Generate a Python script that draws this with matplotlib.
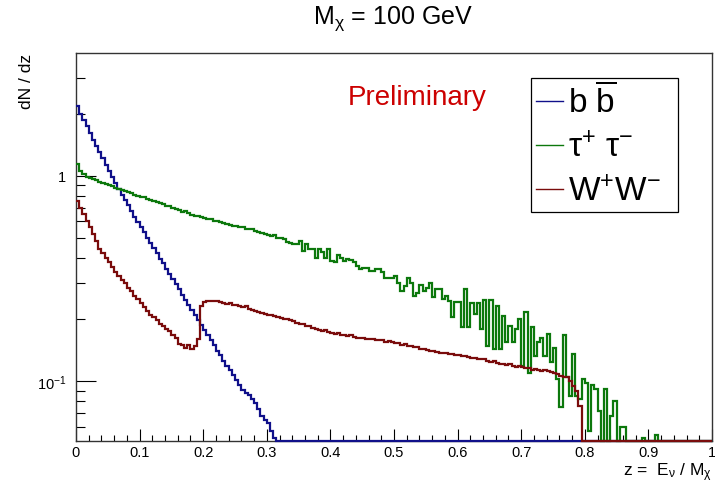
import numpy as np
import matplotlib
matplotlib.use('Agg')
import matplotlib.pyplot as plt
from matplotlib.ticker import MultipleLocator, FixedLocator, NullFormatter
from matplotlib.lines import Line2D

plt.rcParams['font.family'] = ['Liberation Sans', 'DejaVu Sans']
plt.rcParams['mathtext.fontset'] = 'custom'
plt.rcParams['mathtext.rm'] = 'Liberation Sans'
plt.rcParams['mathtext.it'] = 'Liberation Sans:italic'
plt.rcParams['mathtext.bf'] = 'Liberation Sans:bold'

# ---------------- data (200 bins of width 0.005 in z) ----------------
z_edges = np.linspace(0.0, 1.0, 201)

bb_values = [2.18, 2.00, 1.86, 1.74, 1.62, 1.50, 1.40, 1.31, 1.22, 1.13,
             1.06, 0.99, 0.92, 0.86, 0.81, 0.76, 0.72, 0.67, 0.63, 0.595,
             0.56, 0.53, 0.50, 0.47, 0.445, 0.42, 0.395, 0.375, 0.352, 0.332,
             0.314, 0.296, 0.28, 0.264, 0.249, 0.236, 0.222, 0.21, 0.198, 0.188,
             0.178, 0.168, 0.159, 0.150, 0.141, 0.134, 0.126, 0.119, 0.113, 0.107,
             0.101, 0.096, 0.091, 0.088, 0.086, 0.082, 0.078, 0.073, 0.068, 0.065,
             0.063, 0.0575, 0.053] + [0.0] * 137

tautau_values = [1.14, 1.06, 1.02, 0.99, 0.975, 0.96, 0.95, 0.935, 0.92, 0.91,
                 0.90, 0.89, 0.875, 0.86, 0.855, 0.845, 0.83, 0.82, 0.805, 0.80,
                 0.79, 0.785, 0.77, 0.76, 0.755, 0.745, 0.74, 0.725, 0.715, 0.71,
                 0.70, 0.69, 0.68, 0.665, 0.67, 0.655, 0.645, 0.64, 0.635, 0.628,
                 0.625, 0.615, 0.618, 0.605, 0.603, 0.595, 0.59, 0.585, 0.578, 0.572,
                 0.568, 0.565, 0.56, 0.553, 0.55, 0.548, 0.54, 0.535, 0.525, 0.52,
                 0.515, 0.51, 0.512, 0.50,
                 0.50, 0.49, 0.474, 0.47, 0.465, 0.465, 0.48, 0.432, 0.465, 0.44,
                 0.44, 0.40, 0.44, 0.425, 0.40, 0.44, 0.386, 0.38, 0.41, 0.40,
                 0.386, 0.395, 0.39, 0.379, 0.365, 0.352, 0.355, 0.355, 0.345, 0.345,
                 0.352, 0.352, 0.34, 0.317, 0.317, 0.317, 0.325, 0.30, 0.276, 0.292,
                 0.317, 0.30, 0.26, 0.27, 0.295, 0.276, 0.285, 0.30, 0.256, 0.28,
                 0.28, 0.25, 0.26,
                 0.247, 0.205, 0.242, 0.242, 0.183, 0.281, 0.183, 0.24, 0.212, 0.24,
                 0.18, 0.249, 0.149, 0.249, 0.144, 0.232, 0.144, 0.207, 0.155, 0.185,
                 0.155, 0.18, 0.2, 0.119, 0.218, 0.11, 0.183, 0.133, 0.155, 0.162,
                 0.133, 0.17, 0.124, 0.145, 0.103, 0.075, 0.167, 0.105, 0.085, 0.136,
                 0.085, 0.082, 0.103, 0.098, 0.0575, 0.0955, 0.092, 0.072, 0.0, 0.092,
                 0.0, 0.068, 0.0805, 0.0, 0.06, 0.06, 0.0, 0.0, 0.0, 0.0,
                 0.0, 0.053, 0.0, 0.0, 0.0, 0.055] + [0.0] * 17

ww_values = [0.756, 0.70, 0.65, 0.60, 0.56, 0.52, 0.48, 0.44, 0.42, 0.40,
             0.38, 0.36, 0.34, 0.327, 0.31, 0.30, 0.285, 0.275, 0.26, 0.25,
             0.24, 0.23, 0.22, 0.21, 0.205, 0.198, 0.19, 0.185, 0.18, 0.175,
             0.168, 0.162, 0.152, 0.15, 0.145, 0.15, 0.143, 0.148, 0.16, 0.233,
             0.242, 0.245, 0.247, 0.247, 0.245, 0.243, 0.24, 0.238, 0.24, 0.236,
             0.235, 0.232, 0.23, 0.233, 0.225, 0.222, 0.22, 0.218, 0.215, 0.213,
             0.21, 0.21, 0.207, 0.205, 0.203, 0.201, 0.2, 0.198, 0.196, 0.193,
             0.19, 0.19, 0.186, 0.186, 0.182, 0.18, 0.178, 0.176, 0.178, 0.174,
             0.172, 0.17, 0.172, 0.168, 0.168, 0.166, 0.167, 0.165, 0.163, 0.163,
             0.162, 0.16, 0.16, 0.161, 0.159, 0.158, 0.158, 0.156, 0.157, 0.155,
             0.153, 0.153, 0.15, 0.152, 0.149, 0.148, 0.147, 0.146, 0.144, 0.144,
             0.142, 0.14, 0.141, 0.139, 0.138, 0.138, 0.137, 0.136, 0.135, 0.134,
             0.134, 0.132, 0.133, 0.131, 0.13, 0.13, 0.128, 0.129, 0.128, 0.126,
             0.124, 0.125, 0.123, 0.122, 0.122, 0.12, 0.121, 0.119, 0.118, 0.119,
             0.117, 0.116, 0.116, 0.114, 0.115, 0.113, 0.112, 0.113, 0.112, 0.111,
             0.11, 0.108, 0.106, 0.105, 0.105, 0.10, 0.095, 0.09, 0.076] + [0.0] * 41

series_labels = [r'b $\overline{\mathrm{b}}$', r'$\mathrm{\tau}^{+}\ \mathrm{\tau}^{-}$', r'W$^{+}$W$^{-}$']
series_colors = ['#10108a', '#0c780c', '#7a0c0c']
x_tick_values = [0, 0.1, 0.2, 0.3, 0.4, 0.5, 0.6, 0.7, 0.8, 0.9, 1.0]
x_tick_labels = ['0', '0.1', '0.2', '0.3', '0.4', '0.5', '0.6', '0.7', '0.8', '0.9', '1']
y_tick_values = [0.1, 1.0]
y_tick_labels = [r'$10^{-1}$', '1']

YMIN, YMAX = 0.0514, 3.94

# ---------------- figure ----------------
fig = plt.figure(figsize=(7.15, 4.85), dpi=100)
AX_W, AX_H = 636.0, 387.4
ax = fig.add_axes([76 / 715, 1 - 441.7 / 485, AX_W / 715, AX_H / 485])
ax.set_yscale('log')
ax.set_xlim(0, 1)
ax.set_ylim(YMIN, YMAX)

for vals, col in zip([bb_values, tautau_values, ww_values], series_colors):
    v = np.maximum(np.asarray(vals, dtype=float), YMIN)
    ax.stairs(v, z_edges, baseline=None, color=col, lw=1.6, clip_on=False, zorder=3)

# ticks
ax.xaxis.set_major_locator(FixedLocator(x_tick_values))
ax.set_xticklabels(x_tick_labels)
ax.xaxis.set_minor_locator(MultipleLocator(0.02))
ax.yaxis.set_major_locator(FixedLocator(y_tick_values))
ax.set_yticklabels(y_tick_labels)
minor_y = [m * 10.0 ** e for e in (-2, -1, 0) for m in range(2, 10)]
ax.yaxis.set_minor_locator(FixedLocator(minor_y))
ax.yaxis.set_minor_formatter(NullFormatter())

ax.tick_params(axis='both', which='both', direction='in', top=False, right=False,
               labelsize=10.5, width=0.8, color='black')
ax.tick_params(axis='x', which='major', length=8.4, pad=3)
ax.tick_params(axis='x', which='minor', length=4.3)
ax.tick_params(axis='y', which='major', length=14.4, pad=7)
ax.tick_params(axis='y', which='minor', length=6.5)
for s in ax.spines.values():
    s.set_linewidth(1.0)
    s.set_color('#333333')

ax.set_xlabel(r'z =  E$_{\mathrm{\nu}}$ / M$_{\mathrm{\chi}}$', fontsize=12.5,
              ha='right', va='center')
ax.xaxis.set_label_coords(1.0, -(473 - 441.7) / AX_H)
ax.set_ylabel('dN / dz', fontsize=12.5, ha='right', va='center')
ax.yaxis.set_label_coords(-(76 - 27) / AX_W, 1.0)

fig.text(393 / 715, 1 - 19 / 485, r'M$_{\mathrm{\chi}}$ = 100 GeV', fontsize=18,
         ha='center', va='center')
fig.text(417 / 715, 1 - 98 / 485, 'Preliminary', fontsize=20, color='#cc0000',
         ha='center', va='center')

handles = [Line2D([], [], color=c, lw=1.0) for c in series_colors]
leg_x0 = (531 - 76) / AX_W
leg_w = (678 - 531) / AX_W
leg_top = 1 - (79 - 54.3) / AX_H
leg = ax.legend(handles, series_labels, loc='upper left',
                bbox_to_anchor=(leg_x0, leg_top - 0.4, leg_w, 0.4), mode='expand',
                fontsize=24, frameon=True, fancybox=False, framealpha=1,
                edgecolor='black', handlelength=0.8, handletextpad=0.15,
                borderpad=0.15, labelspacing=0.38, borderaxespad=0)
leg.get_frame().set_linewidth(0.9)

fig.savefig('out.png', dpi=100)
